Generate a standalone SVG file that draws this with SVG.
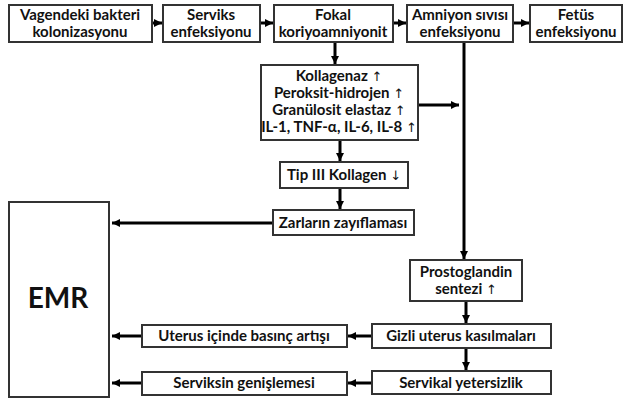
<svg xmlns="http://www.w3.org/2000/svg" width="623" height="400" viewBox="0 0 623 400">
<defs>
<marker id="ah" markerUnits="userSpaceOnUse" markerWidth="10" markerHeight="10" refX="8" refY="5" orient="auto">
<path d="M0,1 L8,5 L0,9 Z" fill="#000"/>
</marker>
<style>
.box{fill:#fff;stroke:#333;stroke-width:2}
.t{font-family:Lato,"Open Sans","Liberation Sans",sans-serif;font-weight:bold;font-size:15px;fill:#111;text-anchor:middle}
.a{font-family:"DejaVu Sans",sans-serif;font-weight:normal;font-size:13px}
.c{stroke:#000;stroke-width:3;fill:none;marker-end:url(#ah)}
</style>
</defs>
<rect width="623" height="400" fill="#fff"/>
<g id="connectors">
<line class="c" x1="152" y1="23" x2="162" y2="23"/>
<line class="c" x1="260" y1="23" x2="273" y2="23"/>
<line class="c" x1="393" y1="23" x2="406" y2="23"/>
<line class="c" x1="513" y1="23" x2="529" y2="23"/>
<line class="c" x1="335" y1="42" x2="335" y2="64"/>
<line class="c" x1="464" y1="42" x2="464" y2="259"/>
<line class="c" x1="418" y1="105" x2="459" y2="105"/>
<line class="c" x1="340" y1="140" x2="340" y2="161"/>
<line class="c" x1="340" y1="188" x2="340" y2="209"/>
<line class="c" x1="273" y1="223" x2="112" y2="223"/>
<line class="c" x1="466" y1="301" x2="466" y2="323"/>
<line class="c" x1="466" y1="348" x2="466" y2="370"/>
<line class="c" x1="372" y1="336" x2="348" y2="336"/>
<line class="c" x1="372" y1="383" x2="348" y2="383"/>
<line class="c" x1="142" y1="336" x2="112" y2="336"/>
<line class="c" x1="142" y1="383" x2="112" y2="383"/>
</g>
<g id="n1"><rect class="box" x="9" y="5" width="143" height="37"/><text class="t" x="80" y="20">Vagendeki bakteri</text><text class="t" x="80" y="37">kolonizasyonu</text></g>
<g id="n2"><rect class="box" x="163" y="5" width="97" height="37"/><text class="t" x="211" y="20">Serviks</text><text class="t" x="211" y="37">enfeksiyonu</text></g>
<g id="n3"><rect class="box" x="274" y="5" width="119" height="37"/><text class="t" x="333" y="20">Fokal</text><text class="t" x="333" y="37">koriyoamniyonit</text></g>
<g id="n4"><rect class="box" x="407" y="5" width="106" height="37"/><text class="t" x="460" y="20">Amniyon sıvısı</text><text class="t" x="460" y="37">enfeksiyonu</text></g>
<g id="n5"><rect class="box" x="530" y="5" width="92" height="37"/><text class="t" x="576" y="20">Fetüs</text><text class="t" x="576" y="37">enfeksiyonu</text></g>
<g id="n6"><rect class="box" x="261" y="65" width="157" height="75"/>
<text class="t" x="339" y="81">Kollagenaz <tspan class="a">↑</tspan></text>
<text class="t" x="339" y="98">Peroksit-hidrojen <tspan class="a">↑</tspan></text>
<text class="t" x="339" y="115">Granülosit elastaz <tspan class="a">↑</tspan></text>
<text class="t" x="339" y="132">IL-1, TNF-α, IL-6, IL-8 <tspan class="a">↑</tspan></text></g>
<g id="n7"><rect class="box" x="280" y="162" width="128" height="26"/><text class="t" x="344" y="180">Tip III Kollagen <tspan class="a">↓</tspan></text></g>
<g id="n8"><rect class="box" x="273" y="210" width="141" height="25"/><text class="t" x="343" y="228">Zarların zayıflaması</text></g>
<g id="n9"><rect class="box" x="9" y="202" width="100" height="195"/><text class="t" x="58" y="308" style="font-size:28px">EMR</text></g>
<g id="n10"><rect class="box" x="410" y="260" width="112" height="41"/><text class="t" x="466" y="277">Prostoglandin</text><text class="t" x="466" y="294">sentezi <tspan class="a">↑</tspan></text></g>
<g id="n11"><rect class="box" x="372" y="324" width="179" height="24"/><text class="t" x="461" y="341">Gizli uterus kasılmaları</text></g>
<g id="n12"><rect class="box" x="372" y="371" width="179" height="23"/><text class="t" x="461" y="388">Servikal yetersizlik</text></g>
<g id="n13"><rect class="box" x="142" y="325" width="205" height="22"/><text class="t" x="244" y="341">Uterus içinde basınç artışı</text></g>
<g id="n14"><rect class="box" x="142" y="372" width="205" height="23"/><text class="t" x="244" y="388">Serviksin genişlemesi</text></g>
</svg>
